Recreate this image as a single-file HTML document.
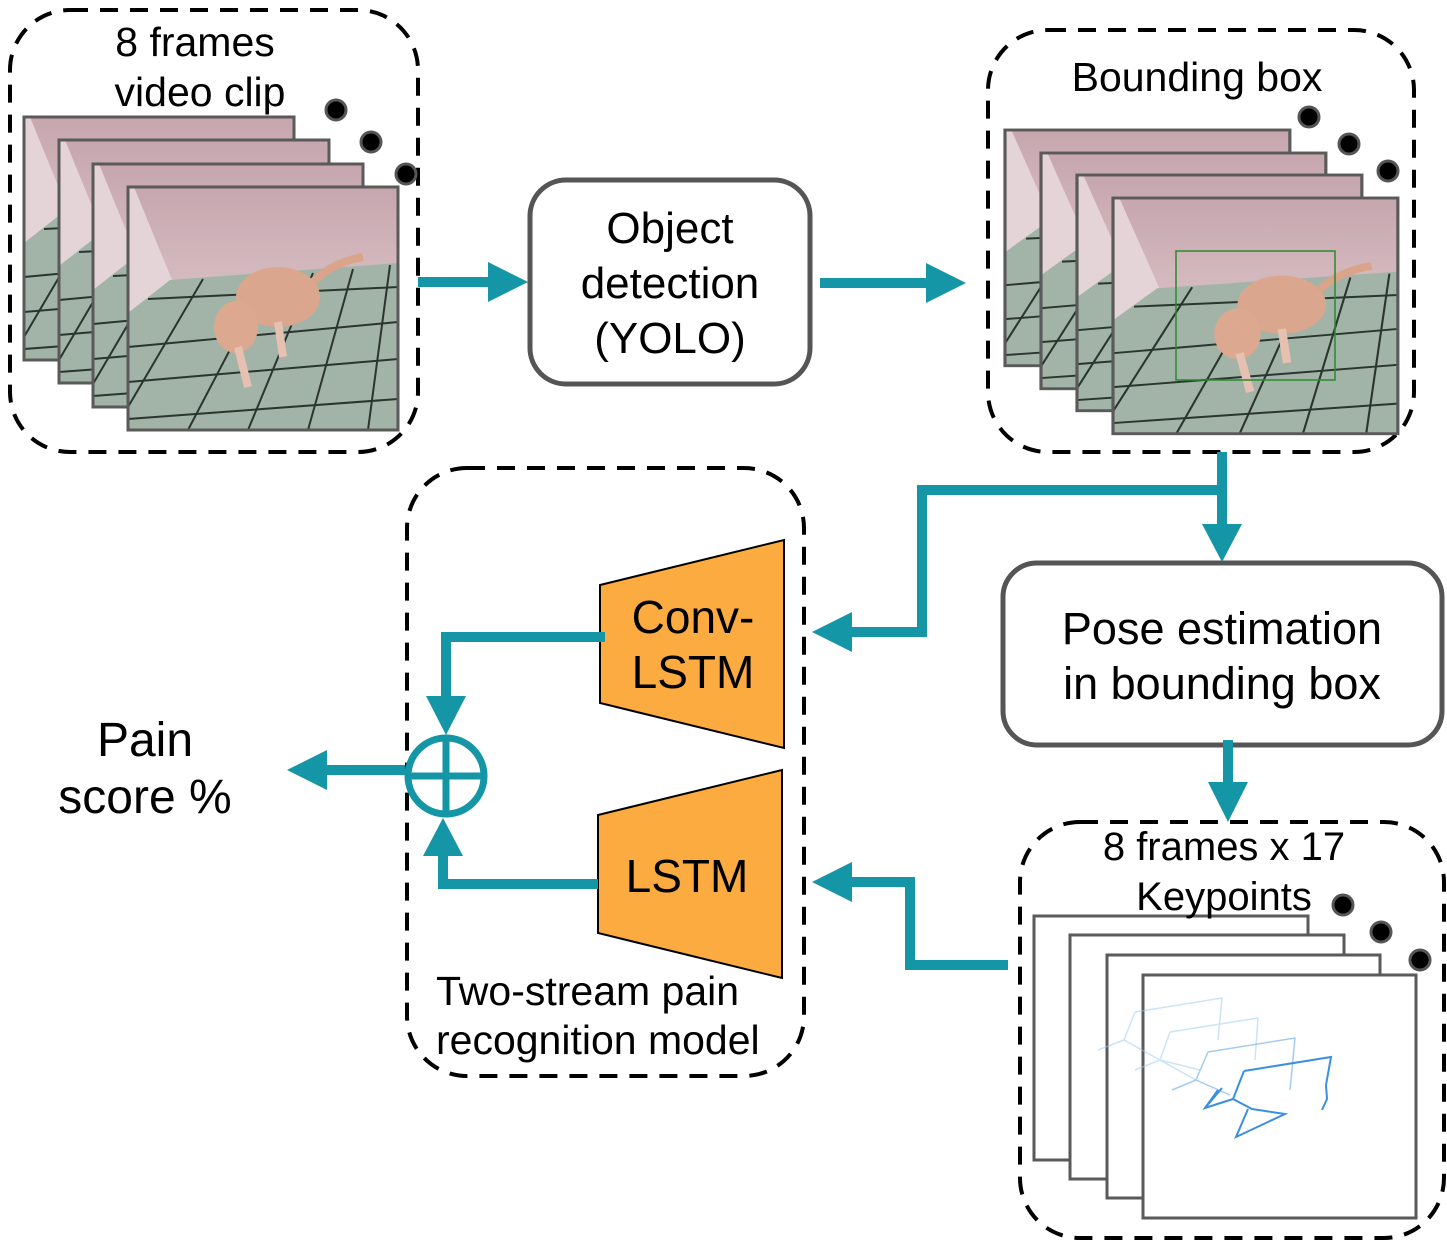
<!DOCTYPE html>
<html><head><meta charset="utf-8"><style>
html,body{margin:0;padding:0;background:#fff;}
svg{display:block;font-family:"Liberation Sans",Arial,sans-serif;}
</style></head><body>
<svg width="1447" height="1243" viewBox="0 0 1447 1243" xmlns="http://www.w3.org/2000/svg">
<defs>
<linearGradient id="wall" x1="0" y1="0" x2="0" y2="1">
<stop offset="0" stop-color="#c7a6ae"/><stop offset="1" stop-color="#e9dcdc"/></linearGradient>
<clipPath id="fc"><rect x="0" y="0" width="270" height="243"/></clipPath>
<g id="frame">
<g clip-path="url(#fc)">
<rect x="0" y="0" width="270" height="243" fill="url(#wall)"/>
<polygon points="0,0 6,0 44,93 0,126" fill="#e4d4d7"/>
<polygon points="0,126 42,93 270,76 270,243 0,243" fill="#a2b3a7"/>
<g stroke="#2a3530" stroke-width="2" fill="none">
<path d="M0,160 L270,135 M0,195 L270,172 M0,232 L270,212 M20,112 L270,100"/>
<path d="M60,243 L140,90 M120,243 L185,86 M180,243 L225,82 M240,243 L262,78 M0,220 L75,92"/>
</g>
</g>
<rect x="0" y="0" width="270" height="243" fill="none" stroke="#5a5a5a" stroke-width="3"/>
</g>
<g id="dog">
<ellipse cx="150" cy="110" rx="42" ry="30" fill="#dba68e"/>
<ellipse cx="108" cy="140" rx="22" ry="26" fill="#dca990"/>
<path d="M110,160 L120,200 M150,135 L155,170" stroke="#e6c0b0" stroke-width="8"/>
<path d="M185,95 Q205,75 235,70" stroke="#d9a48a" stroke-width="8" fill="none"/>
</g>
</defs>

<g fill="none" stroke="#000" stroke-width="4" stroke-dasharray="18,12">
<rect x="10" y="10" width="408" height="442" rx="60"/>
<rect x="988" y="30" width="426" height="422" rx="60"/>
<rect x="407" y="468" width="397" height="608" rx="60"/>
<rect x="1020" y="822" width="424" height="416" rx="60"/>
</g>

<use href="#frame" x="24" y="117"/>
<use href="#frame" x="59" y="140"/>
<use href="#frame" x="93" y="164"/>
<use href="#frame" x="128" y="187"/>
<use href="#dog" x="128" y="187"/>
<g fill="#000" stroke="#555" stroke-width="3">
<circle cx="336" cy="110" r="10"/><circle cx="371" cy="142" r="10"/><circle cx="406" cy="174" r="10"/>
</g>
<text x="195" y="56" font-size="41" text-anchor="middle">8 frames</text>
<text x="200" y="106" font-size="41" text-anchor="middle">video clip</text>

<g transform="translate(1005,130) scale(1.055,0.97)"><use href="#frame"/></g>
<g transform="translate(1041,153) scale(1.055,0.97)"><use href="#frame"/></g>
<g transform="translate(1077,175) scale(1.055,0.97)"><use href="#frame"/></g>
<g transform="translate(1113,198) scale(1.055,0.97)"><use href="#frame"/><use href="#dog" x="10"/></g>
<rect x="1176" y="251" width="159" height="129" fill="none" stroke="#2a8a2a" stroke-width="1.5"/>
<g fill="#000" stroke="#555" stroke-width="3">
<circle cx="1309" cy="117" r="10"/><circle cx="1349" cy="144" r="10"/><circle cx="1388" cy="171" r="10"/>
</g>
<text x="1197" y="91" font-size="41" text-anchor="middle">Bounding box</text>

<rect x="530" y="180" width="280" height="204" rx="36" fill="#fff" stroke="#555" stroke-width="5"/>
<g font-size="44" text-anchor="middle"><text x="670" y="243">Object</text><text x="670" y="298">detection</text><text x="670" y="353">(YOLO)</text></g>

<rect x="1003" y="563" width="439" height="182" rx="34" fill="#fff" stroke="#555" stroke-width="5"/>
<g font-size="45" text-anchor="middle"><text x="1222" y="644">Pose estimation</text><text x="1222" y="699">in bounding box</text></g>

<g fill="#fff" stroke="#5a5a5a" stroke-width="3">
<rect x="1034" y="916" width="274" height="244"/>
<rect x="1070" y="935" width="274" height="244"/>
<rect x="1107" y="955" width="273" height="243"/>
<rect x="1143" y="975" width="273" height="243"/>
</g>
<g fill="none" stroke="#9cc8ef" stroke-width="1.5" opacity="0.5">
<path d="M1135,1012 L1222,998 L1218,1040 M1135,1012 L1124,1040 L1160,1060 L1200,1070 M1124,1040 L1098,1050"/>
<path d="M1170,1032 L1258,1018 L1255,1060 M1170,1032 L1160,1060 L1196,1080 M1160,1060 L1135,1070"/>
</g>
<g fill="none" stroke="#7db6ea" stroke-width="1.5" opacity="0.7">
<path d="M1208,1052 L1295,1038 L1290,1090 M1208,1052 L1196,1080 L1230,1095 M1196,1080 L1172,1090"/>
</g>
<g fill="none" stroke="#3b8fe0" stroke-width="2">
<path d="M1244,1071 L1331,1057 L1326,1085 L1327,1099 L1322,1110 M1244,1071 L1233,1099 L1252,1109 L1285,1114 L1236,1137 L1248,1109 M1233,1099 L1205,1108 L1218,1090 M1205,1108 L1222,1088"/>
</g>
<g fill="#000" stroke="#555" stroke-width="3">
<circle cx="1343" cy="905" r="10"/><circle cx="1381" cy="932" r="10"/><circle cx="1420" cy="960" r="10"/>
</g>
<g font-size="40" text-anchor="middle" fill="#000"><text x="1224" y="860">8 frames x 17</text><text x="1224" y="910">Keypoints</text></g>

<polygon points="600,585 784,540 784,748 600,703" fill="#fbab3f" stroke="#000" stroke-width="2"/>
<polygon points="598,815 782,770 782,978 598,933" fill="#fbab3f" stroke="#000" stroke-width="2"/>
<g font-size="46" text-anchor="middle"><text x="693" y="633">Conv-</text><text x="693" y="688">LSTM</text><text x="687" y="892">LSTM</text></g>
<g font-size="41"><text x="436" y="1005">Two-stream pain</text><text x="436" y="1054">recognition model</text></g>

<g font-size="48" text-anchor="middle"><text x="145" y="756">Pain</text><text x="145" y="813">score %</text></g>

<g fill="none" stroke="#1596a6" stroke-width="10">
<path d="M418,282 H492"/>
<path d="M820,283 H930"/>
<path d="M1222,452 V528"/>
<path d="M1222,490 H922 V632 H848"/>
<path d="M1228,740 V786"/>
<path d="M1008,965 H910 V882 H850"/>
<path d="M605,637 H446 V700"/>
<path d="M598,884 H443 V852"/>
<path d="M405,770 H322"/>
<circle cx="446" cy="776" r="38" stroke-width="7"/>
<path d="M446,738 V814 M408,776 H484" stroke-width="7"/>
</g>
<g fill="#1596a6">
<polygon points="488,262 528,282 488,302"/>
<polygon points="926,263 966,283 926,303"/>
<polygon points="1202,524 1242,524 1222,562"/>
<polygon points="852,612 852,652 812,632"/>
<polygon points="1208,782 1248,782 1228,822"/>
<polygon points="852,862 852,902 812,882"/>
<polygon points="426,696 466,696 446,735"/>
<polygon points="423,856 463,856 443,818"/>
<polygon points="327,750 327,790 287,770"/>
</g>
</svg>
</body></html>
